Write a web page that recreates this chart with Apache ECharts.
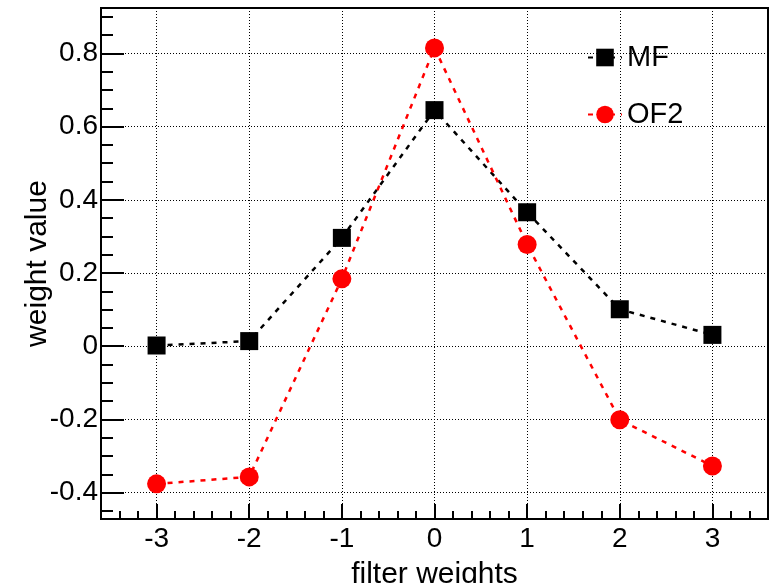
<!DOCTYPE html>
<html><head><meta charset="utf-8">
<script src="https://cdn.jsdelivr.net/npm/echarts@6/dist/echarts.min.js"></script>
<style>html,body{margin:0;padding:0;background:#fff}#c{width:773px;height:583px}</style>
</head><body><div id="c"></div>
<script>
const xValues = [-3, -2, -1, 0, 1, 2, 3];
const mfValues = [0.002, 0.014, 0.296, 0.645, 0.366, 0.101, 0.031];
const of2Values = [-0.376, -0.357, 0.184, 0.815, 0.278, -0.201, -0.327];
const xMajorTicks = [-3, -2, -1, 0, 1, 2, 3];
const yMajorTicks = [-0.4, -0.2, 0, 0.2, 0.4, 0.6, 0.8];
const xMinorTicks = [];
for (let i = -17; i <= 17; i++) xMinorTicks.push(Math.round(i * 0.2 * 10) / 10);
const yMinorTicks = [];
for (let i = -9; i <= 18; i++) yMinorTicks.push(Math.round(i * 0.05 * 100) / 100);

const FONT = 'Liberation Sans';
const xRange = [-3.6, 3.6];
const yRange = [-0.472, 0.924];

const chart = echarts.init(document.getElementById('c'), null, {renderer: 'canvas'});
const tickStyle = {color: '#000', width: 2};
const gridLineStyle = {type: [1, 2], color: '#000', width: 1};

chart.setOption({
  animation: false,
  backgroundColor: '#fff',
  grid: {left: 101, right: 5, top: 8, bottom: 64, show: true, borderColor: '#000', borderWidth: 2,
    containLabel: false, outerBoundsMode: 'none'},
  legend: {
    data: ['MF', 'OF2'], orient: 'vertical', left: 587, top: 43, padding: 0,
    itemWidth: 34, itemHeight: 22, itemGap: 28,
    textStyle: {fontFamily: FONT, fontSize: 29, color: '#000'}
  },
  xAxis: [
    {
      type: 'value', min: xRange[0], max: xRange[1], position: 'bottom',
      axisLine: {show: true, onZero: false, lineStyle: {color: '#000', width: 2}},
      axisTick: {show: true, inside: true, length: 15, customValues: xMajorTicks, lineStyle: tickStyle},
      axisLabel: {customValues: xMajorTicks, fontFamily: FONT, fontSize: 28, color: '#000', margin: 6,
        formatter: v => String(Math.round(v))},
      splitLine: {show: true, lineStyle: gridLineStyle},
      name: 'filter weights', nameLocation: 'middle', nameGap: 41, nameMoveOverlap: false,
      nameTextStyle: {fontFamily: FONT, fontSize: 30, color: '#000'}
    },
    {
      type: 'value', min: xRange[0], max: xRange[1], position: 'bottom', offset: 0,
      axisLine: {show: false, onZero: false},
      axisTick: {show: true, inside: true, length: 8, customValues: xMinorTicks, lineStyle: tickStyle},
      axisLabel: {show: false},
      splitLine: {show: false}
    }
  ],
  yAxis: [
    {
      type: 'value', min: yRange[0], max: yRange[1], position: 'left',
      axisLine: {show: true, onZero: false, lineStyle: {color: '#000', width: 2}},
      axisTick: {show: true, inside: true, length: 23, customValues: yMajorTicks, lineStyle: tickStyle},
      axisLabel: {customValues: yMajorTicks, fontFamily: FONT, fontSize: 28, color: '#000', margin: 3,
        formatter: v => String(Math.round(v * 10) / 10)},
      splitLine: {show: true, lineStyle: gridLineStyle},
      name: 'weight value', nameLocation: 'middle', nameGap: 48, nameMoveOverlap: false,
      nameTextStyle: {fontFamily: FONT, fontSize: 30, color: '#000'}
    },
    {
      type: 'value', min: yRange[0], max: yRange[1], position: 'left', offset: 0,
      axisLine: {show: false, onZero: false},
      axisTick: {show: true, inside: true, length: 12, customValues: yMinorTicks, lineStyle: tickStyle},
      axisLabel: {show: false},
      splitLine: {show: false}
    }
  ],
  series: [
    {
      name: 'MF', type: 'line', xAxisIndex: 0, yAxisIndex: 0,
      data: xValues.map((x, i) => [x, mfValues[i]]),
      symbol: 'rect', symbolSize: 18,
      lineStyle: {color: '#000', width: 2.5, type: [5, 6]},
      itemStyle: {color: '#000'}, z: 3
    },
    {
      name: 'OF2', type: 'line', xAxisIndex: 0, yAxisIndex: 0,
      data: xValues.map((x, i) => [x, of2Values[i]]),
      symbol: 'circle', symbolSize: 19,
      lineStyle: {color: '#ff0000', width: 2.5, type: [5, 6]},
      itemStyle: {color: '#ff0000'}, z: 4
    }
  ]
});
</script></body></html>
